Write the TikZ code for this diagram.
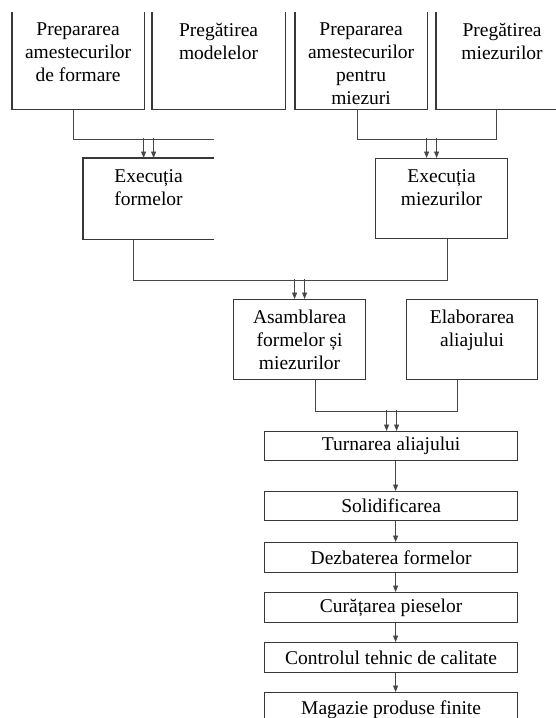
\documentclass[tikz,border=0pt]{standalone}
\usepackage{fontspec}
\setmainfont{Liberation Serif}
\usetikzlibrary{arrows.meta}
\definecolor{boxgray}{gray}{0.22}
\definecolor{linkgray}{gray}{0.28}
% text at the top of a fixed size box
\newcommand{\toptext}[3]{\parbox[c][#2pt][t]{#1pt}{\vspace*{10.5pt}\centering #3\par}}

\begin{document}
\begin{tikzpicture}[x=1pt, y=-1pt,
      box/.style={draw=boxgray, line width=1.2pt, inner sep=0pt, anchor=north west,
                  font=\fontsize{19.5}{23}\selectfont},  % boxes of the scheme
      openbox/.style={box, draw=none},                   % sides drawn by hand
      stepbox/.style={box, minimum width=253pt, minimum height=30pt},
      sides/.style={draw=boxgray, line width=1.2pt},
      link/.style={draw=linkgray, line width=0.9pt},
      arr/.style={link, -{Triangle[length=6.5pt,width=5pt]}}
    ]
    \useasboundingbox (0,0) rectangle (556,718);
    \clip (0,0) rectangle (556,718);

    % first row
    \node[openbox] (prepA) at (12,12) {\toptext{131}{96}{Prepararea\\ amestecurilor\\ de formare}};
    \node[openbox] (pregM) at (152,12) {\toptext{132}{96}{Pregătirea\\ modelelor}};
    \node[openbox] (prepM) at (295,12) {\toptext{131}{96}{Prepararea\\ amestecurilor\\ pentru\\ miezuri}};
    \node[openbox] (pregZ) at (436,12) {\toptext{131}{96}{Pregătirea\\ miezurilor}};
    \foreach \n in {prepA,pregM,prepM,pregZ}
        \draw[sides] (\n.north west) -- (\n.south west) -- (\n.south east) -- (\n.north east);

    % second row
    \node[openbox] (exF) at (83,158) {\toptext{130}{80}{Execuția\\ formelor}};
    \draw[sides] (exF.north east) -- (exF.north west) -- (exF.south west) -- (exF.south east);
    \node[box] (exM) at (375,158) {\toptext{132}{80}{Execuția\\ miezurilor}};

    % third row
    \node[box] (asam) at (233,299) {\toptext{132}{80}{Asamblarea\\ formelor și\\ miezurilor}};
    \node[box] (elab) at (406,299) {\toptext{131}{80}{Elaborarea\\ aliajului}};

    % the chain
    \node[stepbox, minimum height=29pt] (turn) at (264,431) {Turnarea aliajului};
    \node[stepbox, minimum height=29pt] (solid) at (264,491) {Solidificarea};
    \node[stepbox] (dezb) at (264,542) {Dezbaterea formelor};
    \node[stepbox] (cur) at (264,592) {Curățarea pieselor};
    \node[stepbox] (ctrl) at (264,642) {Controlul tehnic de calitate};
    \node[stepbox, minimum height=34pt] (mag) at (264,692) {Magazie produse finite};

    % connectors
    \draw[link] ([xshift=-4.5pt]prepA.south) -- ++(0,30) -- ++(140,0);
    \draw[arr] ([xshift=-5pt]exF.north) ++(0,-20) -- ([xshift=-5pt]exF.north);
    \draw[arr] ([xshift=5pt]exF.north) ++(0,-20) -- ([xshift=5pt]exF.north);

    \draw[link] ([xshift=-3.5pt]prepM.south) -- ++(0,30) -| ([xshift=-5.5pt]pregZ.south);
    \draw[arr] ([xshift=-15pt]exM.north) ++(0,-20) -- ([xshift=-15pt]exM.north);
    \draw[arr] ([xshift=-5pt]exM.north) ++(0,-20) -- ([xshift=-5pt]exM.north);

    \draw[link] ([xshift=-15pt]exF.south) -- ++(0,41) -| ([xshift=6pt]exM.south);
    \draw[arr] ([xshift=-5pt]asam.north) ++(0,-20) -- ([xshift=-5pt]asam.north);
    \draw[arr] ([xshift=5pt]asam.north) ++(0,-20) -- ([xshift=5pt]asam.north);

    \draw[link] ([xshift=16pt]asam.south) -- ++(0,31) -| ([xshift=-14.5pt]elab.south);
    \draw[arr] ([xshift=-4.5pt]turn.north) ++(0,-21) -- ([xshift=-4.5pt]turn.north);
    \draw[arr] ([xshift=5.5pt]turn.north) ++(0,-21) -- ([xshift=5.5pt]turn.north);

    \foreach \a/\b in {turn/solid, solid/dezb, dezb/cur, cur/ctrl, ctrl/mag}
        \draw[arr] ([xshift=4.5pt]\a.south) -- ([xshift=4.5pt]\b.north);
\end{tikzpicture}
\end{document}
